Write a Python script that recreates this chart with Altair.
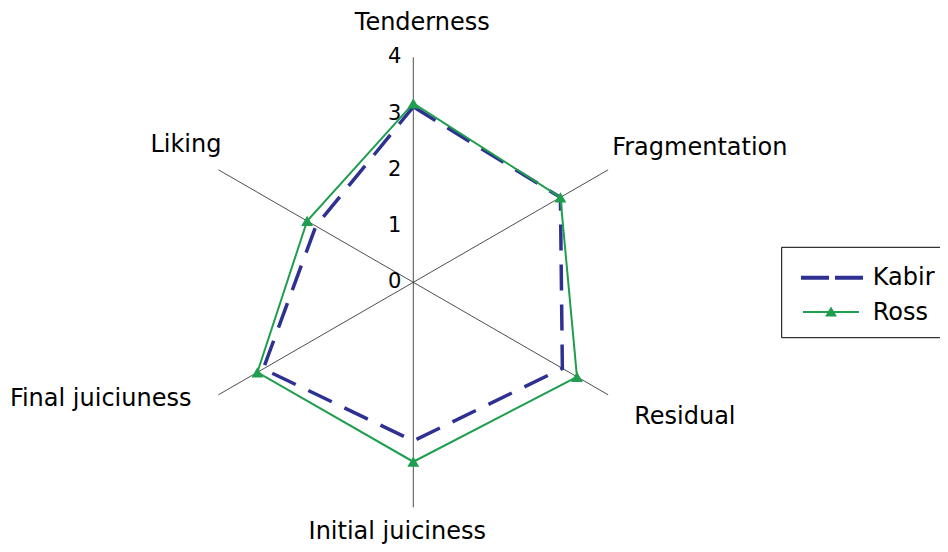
import math
import altair as alt
import pandas as pd

# ---- data ----
categories = ["Tenderness", "Fragmentation", "Residual",
              "Initial juiciness", "Final juiciuness", "Liking"]
series_names = ["Kabir", "Ross"]
kabir = [3.12, 3.02, 3.06, 2.82, 3.08, 2.00]
ross = [3.18, 3.02, 3.36, 3.19, 3.20, 2.18]
ticks = [0, 1, 2, 3, 4]

KABIR_COLOR = "#2E3192"
ROSS_COLOR = "#1E9E4E"
FONT = "DejaVu Sans"

W, H = 932, 536
UNIT = 56.25
CX, CY = 405.3, 274.3  # centre in plot pixels
xdom = [-CX / UNIT, (W - CX) / UNIT]
ydom = [-(H - CY) / UNIT, CY / UNIT]

xs = alt.Scale(domain=xdom, nice=False, zero=False)
ys = alt.Scale(domain=ydom, nice=False, zero=False)

# series table (closed polygon: first category repeated at the end)
rows = []
for name, vals in zip(series_names, [kabir, ross]):
    for i in range(len(categories) + 1):
        k = i % len(categories)
        rows.append({"series": name, "idx": i, "category": categories[k], "value": vals[k]})
df = pd.DataFrame(rows)

spokes = pd.DataFrame({"idx": list(range(len(categories))), "category": categories,
                       "r": [max(ticks)] * len(categories)})
tick_df = pd.DataFrame({"tick": ticks})

n = len(categories)
ang = f"datum.idx * 2 * PI / {n}"

base = alt.Chart(df).transform_calculate(
    px=f"datum.value * sin({ang})",
    py=f"datum.value * cos({ang})",
)

X = alt.X("px:Q", scale=xs, axis=None)
Y = alt.Y("py:Q", scale=ys, axis=None)

spoke_layer = alt.Chart(spokes).transform_calculate(
    x0="0", y0="0",
    x1=f"datum.r * sin({ang})",
    y1=f"datum.r * cos({ang})",
).mark_rule(color="#3a3a3a", strokeWidth=0.9).encode(
    x=alt.X("x0:Q", scale=xs, axis=None),
    y=alt.Y("y0:Q", scale=ys, axis=None),
    x2="x1:Q", y2="y1:Q",
)

tick_layer = alt.Chart(tick_df).transform_calculate(x0="0").mark_text(
    align="right", baseline="middle", dx=-12, fontSize=21, font=FONT, color="black"
).encode(
    x=alt.X("x0:Q", scale=xs, axis=None),
    y=alt.Y("tick:Q", scale=ys, axis=None),
    text="tick:Q",
)

kabir_line = base.transform_filter(alt.datum.series == "Kabir").mark_line(
    color=KABIR_COLOR, strokeWidth=3.5, strokeDash=[26, 14], strokeJoin="miter"
).encode(x=X, y=Y, order="idx:Q")

ross_line = base.transform_filter(alt.datum.series == "Ross").mark_line(
    color=ROSS_COLOR, strokeWidth=2
).encode(x=X, y=Y, order="idx:Q")

ross_pts = base.transform_filter(
    (alt.datum.series == "Ross") & (alt.datum.idx < n)
).mark_point(shape="triangle-up", filled=True, size=140, color=ROSS_COLOR, opacity=1).encode(x=X, y=Y)

# category labels: anchored at the end of each spoke, offset like the reference
label_style = {
    "Tenderness": ("center", 9, -27),
    "Fragmentation": ("left", 4, -15),
    "Residual": ("left", 26, 29),
    "Initial juiciness": ("center", -16, 32),
    "Final juiciuness": ("right", -27, 11),
    "Liking": ("right", 3, -18),
}
label_layers = []
for cat in categories:
    al, ddx, ddy = label_style[cat]
    label_layers.append(
        alt.Chart(spokes).transform_filter(alt.datum.category == cat).transform_calculate(
            x1=f"datum.r * sin({ang})",
            y1=f"datum.r * cos({ang})",
        ).mark_text(align=al, baseline="alphabetic", dx=ddx, dy=ddy,
                    fontSize=24, font=FONT, color="black").encode(
            x=alt.X("x1:Q", scale=xs, axis=None),
            y=alt.Y("y1:Q", scale=ys, axis=None),
            text="category:N",
        )
    )

# legend (drawn box, cut by the right edge as in the reference)
one = pd.DataFrame({"k": [0]})
leg_box = alt.Chart(one).mark_rect(fill="white", stroke="black", strokeWidth=1).encode(
    x=alt.value(773.7), x2=alt.value(990), y=alt.value(239.3), y2=alt.value(329.7)
)
leg_k = alt.Chart(one).mark_rule(color=KABIR_COLOR, strokeWidth=4, strokeDash=[28, 6]).encode(
    x=alt.value(793), x2=alt.value(855), y=alt.value(269.7)
)
leg_r = alt.Chart(one).mark_rule(color=ROSS_COLOR, strokeWidth=2).encode(
    x=alt.value(795), x2=alt.value(851), y=alt.value(304)
)
leg_rp = alt.Chart(one).mark_point(shape="triangle-up", filled=True, size=140,
                                   color=ROSS_COLOR, opacity=1).encode(
    x=alt.value(823), y=alt.value(303.5)
)
leg_t1 = alt.Chart(one).mark_text(align="left", baseline="alphabetic", fontSize=24,
                                  font=FONT, color="black").encode(
    x=alt.value(864.7), y=alt.value(277), text=alt.value(series_names[0])
)
leg_t2 = alt.Chart(one).mark_text(align="left", baseline="alphabetic", fontSize=24,
                                  font=FONT, color="black").encode(
    x=alt.value(864.7), y=alt.value(312), text=alt.value(series_names[1])
)

chart = alt.layer(
    spoke_layer, tick_layer, kabir_line, ross_line, ross_pts, *label_layers,
    leg_box, leg_k, leg_r, leg_rp, leg_t1, leg_t2,
).properties(
    width=W, height=H, padding=0, autosize=alt.AutoSizeParams(type="none"),
    background="white",
).configure_view(stroke=None)

chart.save("out.html", embed_options={"renderer": "svg", "actions": False})
